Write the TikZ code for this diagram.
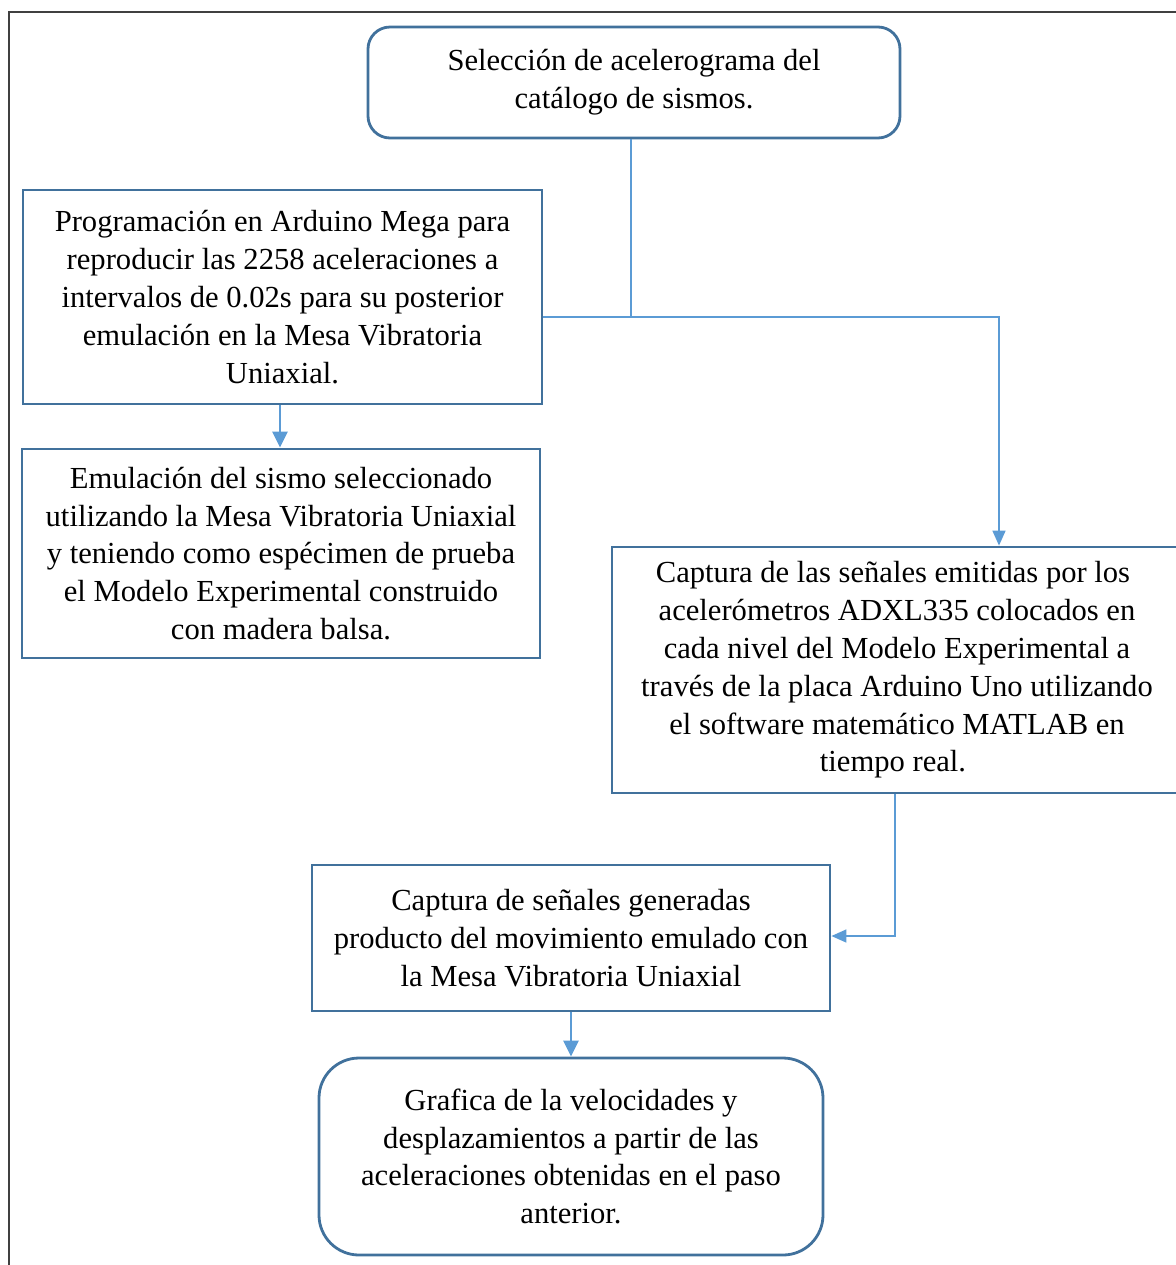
\documentclass[tikz,border=0pt]{standalone}
\usepackage{fontspec}
\setmainfont{Liberation Serif}
\usetikzlibrary{arrows.meta,positioning}
\definecolor{boxline}{HTML}{41719C}
\definecolor{linkline}{HTML}{5B9BD5}
\definecolor{framegray}{HTML}{404040}

\begin{document}
\begin{tikzpicture}[
    x=0.5pt, y=-0.5pt,
    stepbox/.style={draw=boxline, line width=1.4pt, inner sep=0pt,
                    align=center, font=\fontsize{15.3}{18.9}\selectfont},
    roundbox/.style={stepbox, rounded corners=11pt},
    arr/.style={-{Triangle[length=7.5pt,width=6.5pt]}, draw=linkline, line width=0.75pt},
    fatarr/.style={-{Triangle[length=8pt,width=7.5pt]}, draw=linkline, line width=1.3pt}
  ]
  \useasboundingbox (0,0) rectangle (1176,1265);
  %% --- page frame ---
  \draw[framegray, line width=0.8pt] (1180,12) -- (9,12) -- (9,1270);

  %% --- boxes ---
  \node[roundbox, minimum width=266pt, minimum height=55.5pt] (sel) at (634,82.5)
        {Selección de acelerograma del\\catálogo de sismos.};
  \node[stepbox, minimum width=259.5pt, minimum height=107pt] (prog) at (282.5,297)
        {Programación en Arduino Mega para\\reproducir las 2258 aceleraciones a\\
         intervalos de 0.02s para su posterior\\emulación en la Mesa Vibratoria\\Uniaxial.};
  \node[stepbox, minimum width=259pt, minimum height=104.5pt] (emul) at (281,553.5)
        {Emulación del sismo seleccionado\\utilizando la Mesa Vibratoria Uniaxial\\
         y teniendo como espécimen de prueba\\el Modelo Experimental construido\\con madera balsa.};
  \node[stepbox, minimum width=285pt, minimum height=123pt] (capt) at (897,670)
        {\hspace*{-4pt}Captura de las señales emitidas por los\\acelerómetros ADXL335 colocados en\\
         cada nivel del Modelo Experimental a\\través de la placa Arduino Uno utilizando\\
         el software matemático MATLAB en\\tiempo real.\hspace*{4pt}};
  \node[stepbox, minimum width=259pt, minimum height=73pt] (gen) at (571,938)
        {Captura de señales generadas\\producto del movimiento emulado con\\la Mesa Vibratoria Uniaxial};
  \node[roundbox, rounded corners=20pt, minimum width=252pt, minimum height=98.5pt] (graf) at (571,1156.5)
        {Grafica de la velocidades y\\desplazamientos a partir de las\\
         aceleraciones obtenidas en el paso\\anterior.};

  %% --- connectors ---
  \coordinate (jn) at (631,317);
  \coordinate (jr) at (999,317);
  \coordinate (jc) at (895,936);
  \draw[linkline, line width=0.75pt] (sel.south -| jn) -- (jn);
  \draw[arr] (prog.east |- jn) -- (jr) -- (capt.north -| jr);
  \draw[fatarr] (prog.south -| 280,0) -- (emul.north -| 280,0);
  \draw[arr] (capt.south -| jc) -- (jc) -- (gen.east |- jc);
  \draw[fatarr] (gen.south) -- (graf.north);
\end{tikzpicture}
\end{document}
